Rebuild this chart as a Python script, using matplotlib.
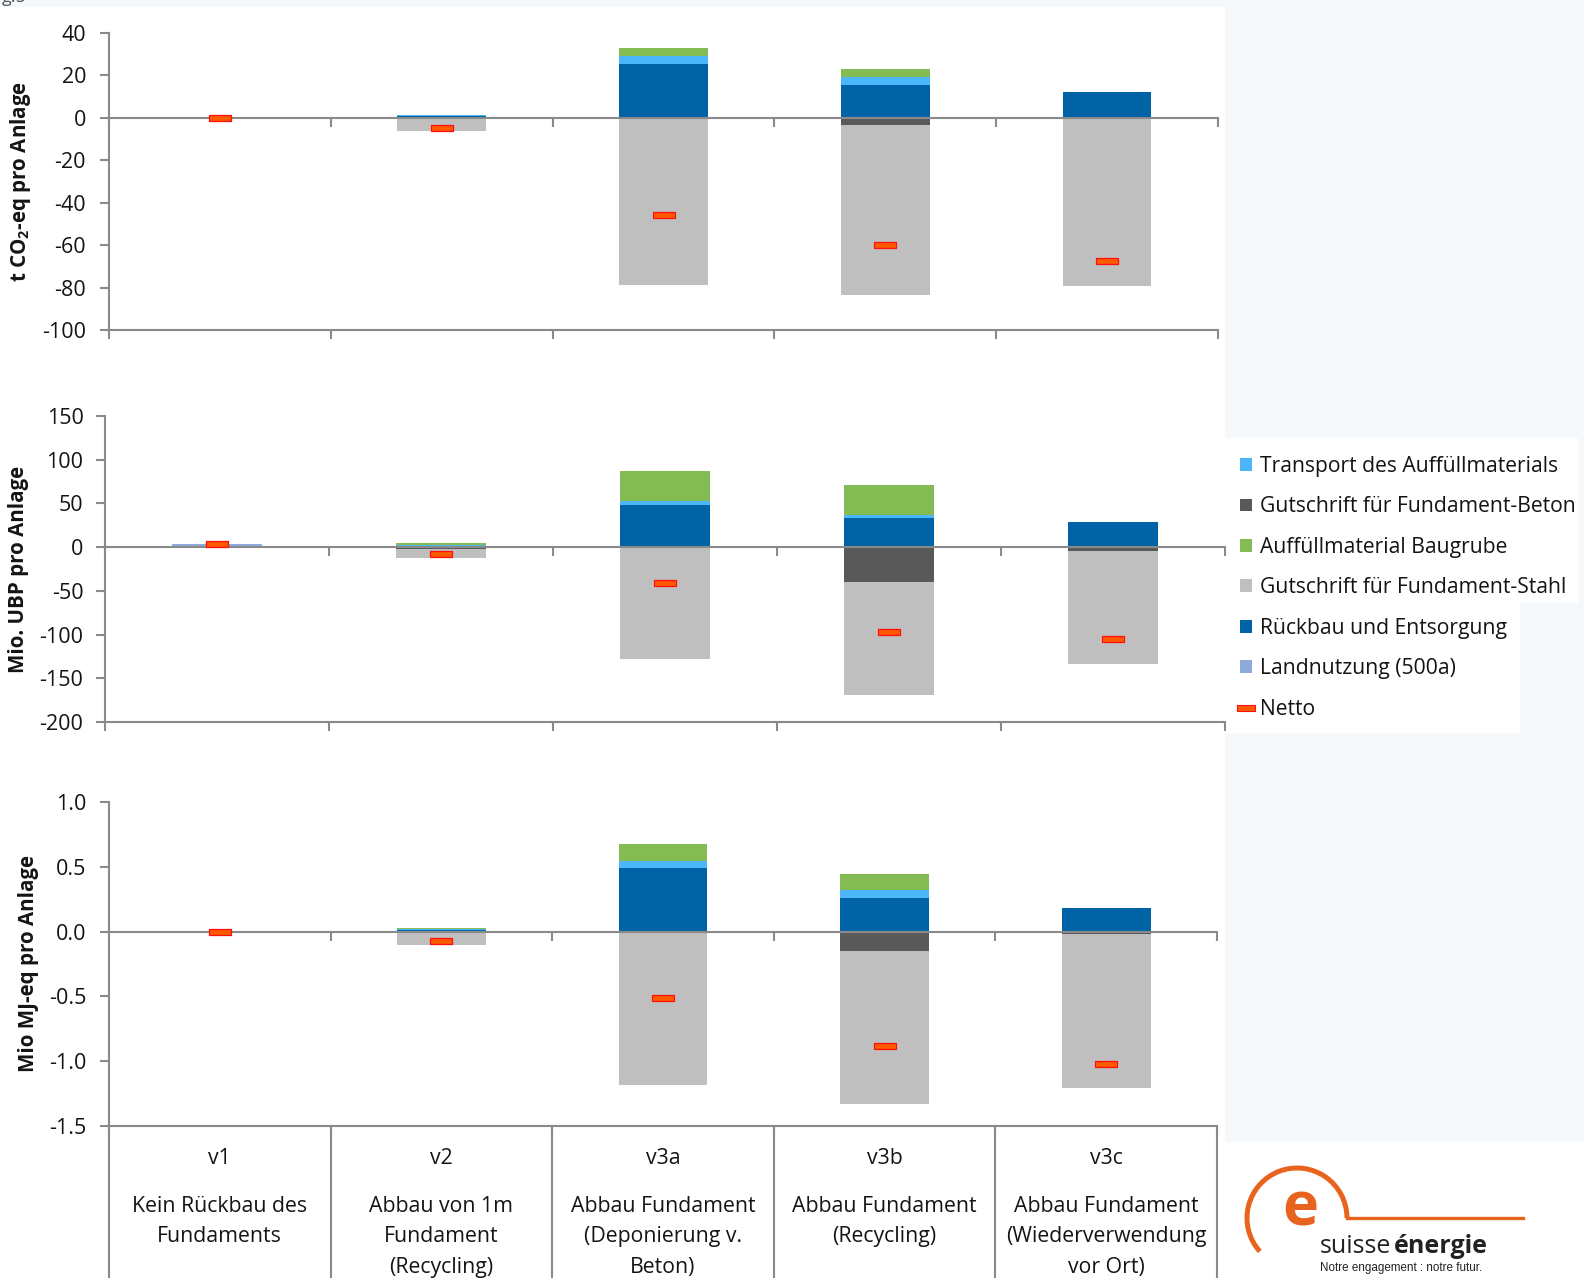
import matplotlib
matplotlib.use("Agg")
import matplotlib.pyplot as plt
import matplotlib.transforms as mtransforms
from matplotlib.patches import Patch, Rectangle, Arc
from matplotlib.lines import Line2D
import numpy as np

plt.rcParams['font.family'] = ['Open Sans', 'DejaVu Sans']
plt.rcParams['axes.unicode_minus'] = False
plt.rcParams['mathtext.fontset'] = 'custom'
plt.rcParams['mathtext.rm'] = 'Open Sans'
plt.rcParams['mathtext.bf'] = 'Open Sans:bold'
plt.rcParams['mathtext.default'] = 'bf'

# ---------------------------------------------------------------- data
categories = ["v1", "v2", "v3a", "v3b", "v3c"]
descriptions = [
    "Kein Rückbau des\nFundaments",
    "Abbau von 1m\nFundament\n(Recycling)",
    "Abbau Fundament\n(Deponierung v.\nBeton)",
    "Abbau Fundament\n(Recycling)",
    "Abbau Fundament\n(Wiederverwendung\nvor Ort)",
]

# t CO2-eq pro Anlage
co2_landnutzung = [0, 0, 0, 0, 0]
co2_rueckbau = [0, 0.8, 25.6, 15.7, 12.1]
co2_transport = [0, 0.4, 3.4, 3.6, 0]
co2_auffuell = [0, 0.3, 4.0, 3.9, 0]
co2_beton = [0, -0.5, 0, -3.6, -0.4]
co2_stahl = [0, -5.6, -78.6, -79.7, -79.0]
co2_netto = [0, -4.6, -45.6, -60.1, -67.3]
co2_ticks = [40, 20, 0, -20, -40, -60, -80, -100]
co2_ticklabels = ["40", "20", "0", "-20", "-40", "-60", "-80", "-100"]

# Mio. UBP pro Anlage
ubp_landnutzung = [4, 0, 0, 0, 0]
ubp_rueckbau = [0, 1.5, 48, 33, 28.6]
ubp_transport = [0, 0.5, 5, 4, 0]
ubp_auffuell = [0, 2.5, 34, 34, 0]
ubp_beton = [0, -2.5, 0, -40, -4.6]
ubp_stahl = [0, -10.4, -128, -128.6, -128.9]
ubp_netto = [4, -8.4, -41, -97.6, -104.9]
ubp_ticks = [150, 100, 50, 0, -50, -100, -150, -200]
ubp_ticklabels = ["150", "100", "50", "0", "-50", "-100", "-150", "-200"]

# Mio MJ-eq pro Anlage
mj_landnutzung = [0, 0, 0, 0, 0]
mj_rueckbau = [0, 0.015, 0.494, 0.262, 0.185]
mj_transport = [0, 0.005, 0.054, 0.059, 0]
mj_auffuell = [0, 0.01, 0.126, 0.123, 0]
mj_beton = [0, -0.01, 0, -0.147, -0.02]
mj_stahl = [0, -0.09, -1.186, -1.18, -1.186]
mj_netto = [0, -0.07, -0.512, -0.883, -1.021]
mj_ticks = [1.0, 0.5, 0.0, -0.5, -1.0, -1.5]
mj_ticklabels = ["1.0", "0.5", "0.0", "-0.5", "-1.0", "-1.5"]

series_labels = {
    "transport": "Transport des Auffüllmaterials",
    "beton": "Gutschrift für Fundament-Beton",
    "auffuell": "Auffüllmaterial Baugrube",
    "stahl": "Gutschrift für Fundament-Stahl",
    "rueckbau": "Rückbau und Entsorgung",
    "landnutzung": "Landnutzung (500a)",
    "netto": "Netto",
}
colors = {
    "landnutzung": "#8eaadb",
    "rueckbau": "#0063a6",
    "transport": "#4cb6fa",
    "auffuell": "#84bb53",
    "beton": "#595959",
    "stahl": "#bfbfbf",
}
NET_FACE = "#ff5a00"
NET_EDGE = "#ff1010"
AXIS_GREY = "#8a8a8a"
TEXT = "#141414"
ORANGE = "#e8641e"
BG_TINT = "#f6f9fc"

# ---------------------------------------------------------------- figure
W, H = 1584, 1278
fig = plt.figure(figsize=(W / 100, H / 100), dpi=100)
fig.patch.set_facecolor("white")


def px_rect(left, top, right, bottom):
    return [left / W, 1 - bottom / H, (right - left) / W, (bottom - top) / H]


def tint(left, top, right, bottom, color):
    r = Rectangle((left / W, 1 - bottom / H), (right - left) / W, (bottom - top) / H,
                  transform=fig.transFigure, facecolor=color, edgecolor="none", zorder=-20)
    fig.add_artist(r)


# light page tint around the chart area, with white legend and logo boxes
tint(0, 0, W, 7, BG_TINT)
tint(1225, 0, W, H, BG_TINT)
tint(1225, 438, 1578, 603, "white")
tint(1225, 603, 1520, 733, "white")
tint(1225, 1142, W, H, "white")

net_marker = [(-1, -0.28), (1, -0.28), (1, 0.28), (-1, 0.28), (-1, -0.28)]


def draw_panel(ax, land, rueck, trans, auff, beton, stahl, netto,
               ylim, ticks, ticklabels, ylabel, label_x, label_pad):
    n = len(categories)
    x = np.arange(n) + 0.5
    bottom = np.zeros(n)
    for key, vals in (("landnutzung", land), ("rueckbau", rueck),
                      ("transport", trans), ("auffuell", auff)):
        v = np.asarray(vals, dtype=float)
        ax.bar(x, v, width=0.4, bottom=bottom, color=colors[key], linewidth=0, zorder=2)
        bottom = bottom + v
    bottom = np.zeros(n)
    for key, vals in (("beton", beton), ("stahl", stahl)):
        v = np.asarray(vals, dtype=float)
        ax.bar(x, v, width=0.4, bottom=bottom, color=colors[key], linewidth=0, zorder=2)
        bottom = bottom + v
    ax.plot(x, netto, linestyle="none", marker=net_marker, markersize=15.5,
            markerfacecolor=NET_FACE, markeredgecolor=NET_EDGE, markeredgewidth=0.9, zorder=5)

    ax.set_xlim(0, n)
    ax.set_ylim(*ylim)
    ax.set_facecolor("none")
    for s in ("top", "right"):
        ax.spines[s].set_visible(False)
    for s in ("left", "bottom"):
        ax.spines[s].set_color(AXIS_GREY)
        ax.spines[s].set_linewidth(1.5)
    ax.set_yticks(ticks)
    ax.set_yticklabels(ticklabels)
    ax.set_xticks(np.arange(n + 1))
    ax.set_xticklabels([])
    ax.tick_params(axis="both", direction="out", length=6.5, width=1.5, color=AXIS_GREY,
                   labelsize=15.5, labelcolor=TEXT)
    ax.tick_params(axis="y", pad=label_pad)

    # category axis crossing at zero
    frac = (0 - ylim[0]) / (ylim[1] - ylim[0])
    sec = ax.secondary_xaxis(frac)
    sec.set_alignment("bottom")
    sec.set_xticks(np.arange(n + 1))
    sec.set_xticklabels([])
    sec.tick_params(direction="out", length=6.5, width=1.5, color=AXIS_GREY)
    for s in sec.spines.values():
        s.set_color(AXIS_GREY)
        s.set_linewidth(1.5)
    sec.set_zorder(3)

    ax.text(label_x, 0.5, ylabel, transform=ax.transAxes, rotation=90,
            rotation_mode="anchor", ha="center", va="center",
            fontsize=14.8, fontweight="bold", color=TEXT)


ax1 = fig.add_axes(px_rect(109, 33, 1218, 330))
draw_panel(ax1, co2_landnutzung, co2_rueckbau, co2_transport, co2_auffuell,
           co2_beton, co2_stahl, co2_netto, (-100, 40), co2_ticks, co2_ticklabels,
           r"t CO$_2$-eq pro Anlage", (21 - 109) / (1218 - 109), 10)

ax2 = fig.add_axes(px_rect(105, 416, 1225, 722))
draw_panel(ax2, ubp_landnutzung, ubp_rueckbau, ubp_transport, ubp_auffuell,
           ubp_beton, ubp_stahl, ubp_netto, (-200, 150), ubp_ticks, ubp_ticklabels,
           "Mio. UBP pro Anlage", (19 - 105) / (1225 - 105), 9)

ax3 = fig.add_axes(px_rect(109, 802, 1217, 1126))
draw_panel(ax3, mj_landnutzung, mj_rueckbau, mj_transport, mj_auffuell,
           mj_beton, mj_stahl, mj_netto, (-1.5, 1.0), mj_ticks, mj_ticklabels,
           "Mio MJ-eq pro Anlage", (29 - 109) / (1217 - 109), 10)

# category table under the lowest panel
tr = mtransforms.blended_transform_factory(ax3.transData, fig.transFigure)
for b in range(len(categories) + 1):
    ax3.plot([b, b], [1 - 1126 / H, -0.01], transform=tr, color=AXIS_GREY,
             linewidth=1.5, clip_on=False, zorder=1)
for i, (cat, desc) in enumerate(zip(categories, descriptions)):
    ax3.text(i + 0.5, 1 - 1159 / H, cat, transform=tr, ha="center", va="center",
             fontsize=15.3, color=TEXT)
    ax3.text(i + 0.5, 1 - 1196 / H, desc, transform=tr, ha="center", va="top",
             fontsize=15.3, color=TEXT, linespacing=1.58)

# legend
order = ["transport", "beton", "auffuell", "stahl", "rueckbau", "landnutzung"]
handles = [Patch(facecolor=colors[k], edgecolor="none") for k in order]
handles.append(Line2D([], [], linestyle="none", marker=net_marker, markersize=13,
                      markerfacecolor=NET_FACE, markeredgecolor=NET_EDGE, markeredgewidth=0.8))
labels = [series_labels[k] for k in order] + [series_labels["netto"]]
fig.legend(handles, labels, loc="upper left", bbox_to_anchor=(1240 / W, 1 - 456 / H),
           frameon=False, fontsize=15.2, handlelength=0.55, handleheight=0.55,
           handletextpad=0.4, labelspacing=0.92, borderaxespad=0, borderpad=0,
           labelcolor=TEXT)

# logo
inch = fig.dpi_scale_trans
cx, cy, r = 1297 / 100, (H - 1218) / 100, 0.50
fig.add_artist(Arc((cx, cy), 2 * r, 2 * r, theta1=0, theta2=222, transform=inch,
                   color=ORANGE, linewidth=3.6))
fig.add_artist(Line2D([cx + r, 1523 / 100], [cy, cy], transform=inch, color=ORANGE,
                      linewidth=2.4))
fig.text(1300 / W, 1 - 1210 / H, "e", ha="center", va="center", fontsize=44,
         fontweight="bold", color=ORANGE)
fig.text(1320 / W, 1 - 1253 / H, "suisse", ha="left", va="baseline", fontsize=18,
         color="#222222")
fig.text(1394 / W, 1 - 1253 / H, "énergie", ha="left", va="baseline", fontsize=18,
         fontweight="bold", color="#222222")
fig.text(1320 / W, 1 - 1268 / H, "Notre engagement : notre futur.", ha="left",
         va="center", fontsize=8.4, family="Liberation Sans", color="#222222")

# caption fragment at the top edge
fig.text(2 / W, 1 + 3 / H, "g.5", ha="left", va="center", fontsize=13, color="#555555")

fig.savefig("out.png", dpi=100, facecolor=fig.get_facecolor())
